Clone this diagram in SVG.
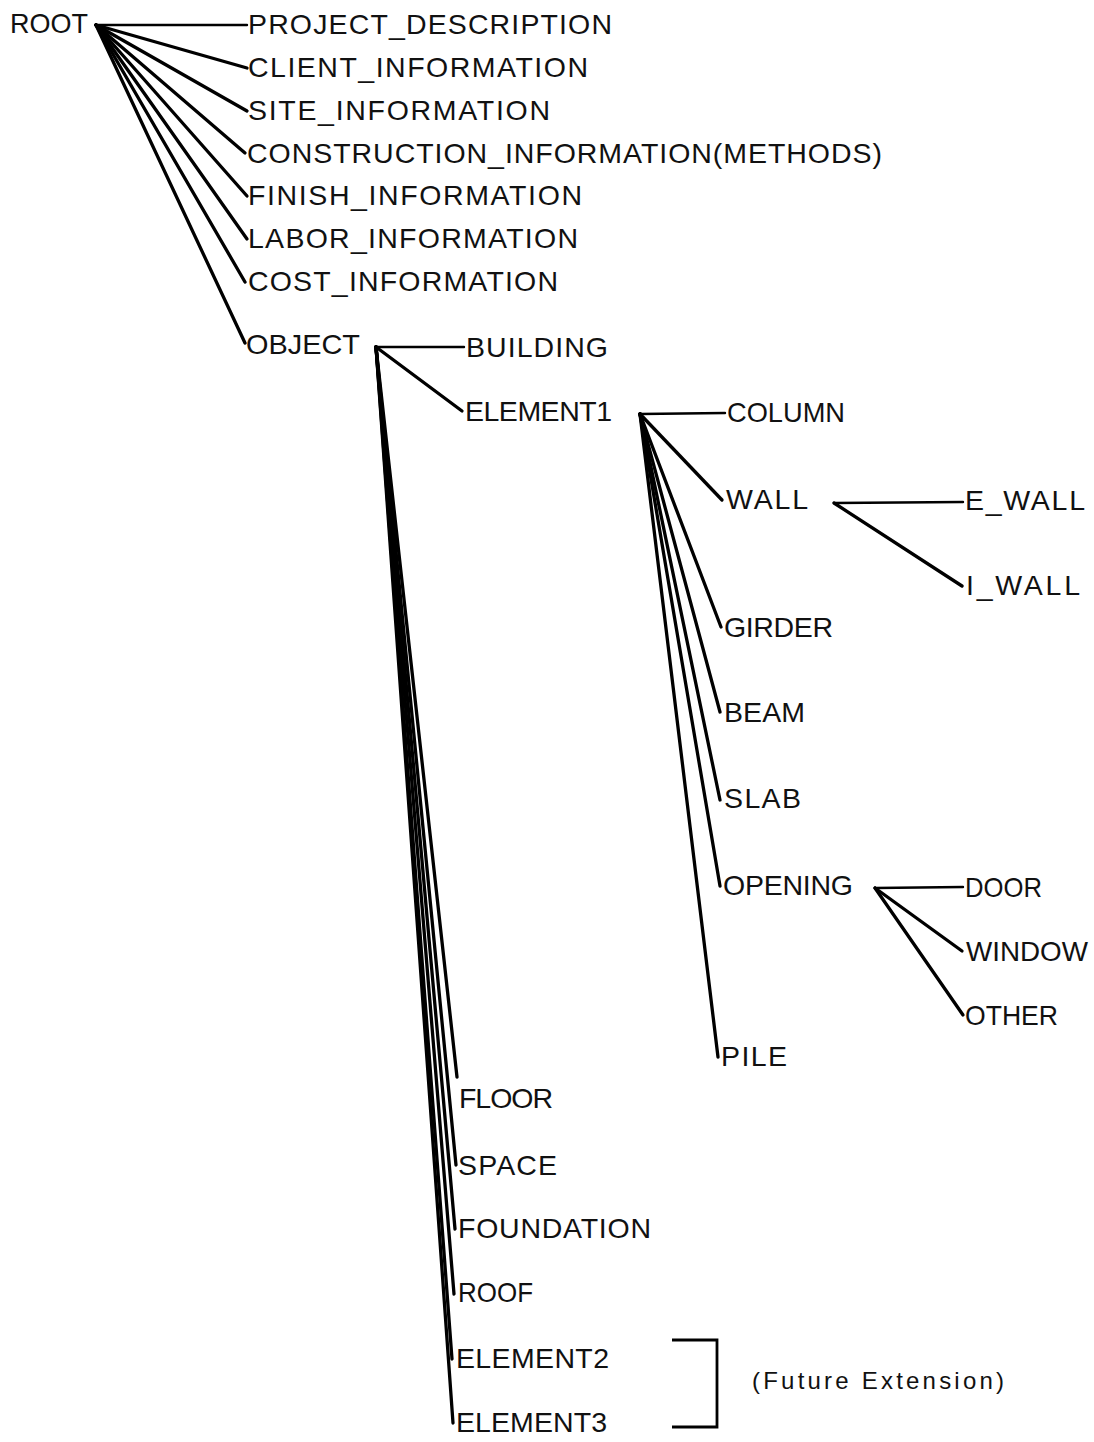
<svg xmlns="http://www.w3.org/2000/svg" width="1094" height="1442" viewBox="0 0 1094 1442">
<style>
text{font-family:"Liberation Sans","DejaVu Sans",sans-serif;font-size:28.5px;fill:#111}
.c line{stroke:#000;stroke-width:3.3;stroke-linecap:round}
.c line.h{stroke-width:2.4}
.c path{fill:none;stroke:#000;stroke-width:2.8}
.note{font-size:24px}
</style>
<rect width="1094" height="1442" fill="#fff"/>
<g id="connectors" class="c">
<line class="h" x1="96" y1="25" x2="247" y2="25"/>
<line x1="96" y1="25" x2="247" y2="68"/>
<line x1="96" y1="25" x2="247" y2="111"/>
<line x1="96" y1="25" x2="245" y2="153"/>
<line x1="96" y1="25" x2="247" y2="196"/>
<line x1="96" y1="25" x2="247" y2="239"/>
<line x1="96" y1="25" x2="245" y2="282"/>
<line x1="96" y1="25" x2="245" y2="343"/>
<line class="h" x1="376" y1="347" x2="464" y2="347"/>
<line x1="376" y1="347" x2="462" y2="411"/>
<line x1="376" y1="347" x2="457" y2="1077"/>
<line x1="376" y1="347" x2="456" y2="1165"/>
<line x1="376" y1="347" x2="455" y2="1229"/>
<line x1="376" y1="347" x2="454" y2="1294"/>
<line x1="376" y1="347" x2="452" y2="1359"/>
<line x1="376" y1="347" x2="453" y2="1423"/>
<line class="h" x1="640" y1="414" x2="725" y2="413"/>
<line x1="640" y1="414" x2="722" y2="500"/>
<line x1="640" y1="414" x2="721" y2="627"/>
<line x1="640" y1="414" x2="720" y2="712"/>
<line x1="640" y1="414" x2="720" y2="800"/>
<line x1="640" y1="414" x2="720" y2="886"/>
<line x1="640" y1="414" x2="718" y2="1057"/>
<line class="h" x1="834" y1="503" x2="963" y2="502"/>
<line x1="834" y1="503" x2="962" y2="586"/>
<line class="h" x1="875" y1="888" x2="963" y2="887"/>
<line x1="875" y1="888" x2="962" y2="951"/>
<line x1="875" y1="888" x2="963" y2="1015"/>
<path d="M672 1340 H717 V1427 H672"/>
</g>
<g id="n-root"><text x="10" y="33" textLength="78" lengthAdjust="spacingAndGlyphs">ROOT</text></g>
<g id="n-project"><text x="248" y="34" textLength="364">PROJECT_DESCRIPTION</text></g>
<g id="n-client"><text x="248" y="77" textLength="340">CLIENT_INFORMATION</text></g>
<g id="n-site"><text x="248" y="120" textLength="302">SITE_INFORMATION</text></g>
<g id="n-construction"><text x="247" y="163" textLength="635">CONSTRUCTION_INFORMATION(METHODS)</text></g>
<g id="n-finish"><text x="248" y="205" textLength="334">FINISH_INFORMATION</text></g>
<g id="n-labor"><text x="248" y="248" textLength="330">LABOR_INFORMATION</text></g>
<g id="n-cost"><text x="248" y="291" textLength="310">COST_INFORMATION</text></g>
<g id="n-object"><text x="246" y="354" textLength="114" lengthAdjust="spacingAndGlyphs">OBJECT</text></g>
<g id="n-building"><text x="466" y="357" textLength="142">BUILDING</text></g>
<g id="n-element1"><text x="465" y="421" textLength="147">ELEMENT1</text></g>
<g id="n-column"><text x="727" y="422" textLength="118" lengthAdjust="spacingAndGlyphs">COLUMN</text></g>
<g id="n-wall"><text x="726" y="509" textLength="82">WALL</text></g>
<g id="n-ewall"><text x="965" y="510" textLength="120">E_WALL</text></g>
<g id="n-iwall"><text x="966" y="595" textLength="114">I_WALL</text></g>
<g id="n-girder"><text x="724" y="637" textLength="109">GIRDER</text></g>
<g id="n-beam"><text x="724" y="722" textLength="81">BEAM</text></g>
<g id="n-slab"><text x="724" y="808" textLength="77">SLAB</text></g>
<g id="n-opening"><text x="723" y="895" textLength="130">OPENING</text></g>
<g id="n-door"><text x="965" y="897" textLength="77" lengthAdjust="spacingAndGlyphs">DOOR</text></g>
<g id="n-window"><text x="966" y="961" textLength="122" lengthAdjust="spacingAndGlyphs">WINDOW</text></g>
<g id="n-other"><text x="965" y="1025" textLength="93" lengthAdjust="spacingAndGlyphs">OTHER</text></g>
<g id="n-pile"><text x="721" y="1066" textLength="66">PILE</text></g>
<g id="n-floor"><text x="459" y="1108" textLength="94">FLOOR</text></g>
<g id="n-space"><text x="458" y="1175" textLength="99">SPACE</text></g>
<g id="n-foundation"><text x="458" y="1238" textLength="193">FOUNDATION</text></g>
<g id="n-roof"><text x="458" y="1302" textLength="75" lengthAdjust="spacingAndGlyphs">ROOF</text></g>
<g id="n-element2"><text x="456" y="1368" textLength="153">ELEMENT2</text></g>
<g id="n-element3"><text x="456" y="1432" textLength="151">ELEMENT3</text></g>
<g id="n-future"><text class="note" x="752" y="1389" textLength="252">(Future Extension)</text></g>
</svg>
